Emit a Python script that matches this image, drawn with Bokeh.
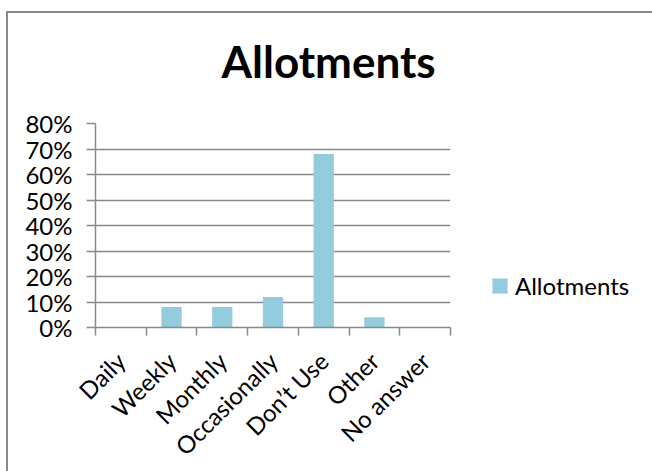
import math
from bokeh.plotting import figure
from bokeh.models import (FixedTicker, NumeralTickFormatter, Range1d, Legend,
                          LegendItem, ColumnDataSource, CustomJSTickFormatter, LinearAxis)
from bokeh.embed import file_html
from bokeh.resources import INLINE

# ---- data ----
categories = ["Daily", "Weekly", "Monthly", "Occasionally", "Don\u2019t Use", "Other", "No answer"]
values = [0.0, 0.08, 0.08, 0.12, 0.68, 0.04, 0.0]
y_ticks = [0.0, 0.1, 0.2, 0.3, 0.4, 0.5, 0.6, 0.7, 0.8]
series_name = "Allotments"
title_text = "Allotments"

# ---- styles ----
BAR = "#93CDDD"
GRID = "#898989"
FONT = "Lato"

x_centers = [i + 0.5 for i in range(len(categories))]
boundaries = list(range(len(categories) + 1))
source = ColumnDataSource(dict(x=x_centers, top=values))

p = figure(frame_width=355, frame_height=204,
           min_border_left=87, min_border_right=198,
           min_border_top=110, min_border_bottom=142,
           x_range=Range1d(0, len(categories)), y_range=Range1d(0, y_ticks[-1]),
           output_backend="svg", toolbar_location=None)
p.outline_line_color = None
p.background_fill_color = "white"
p.border_fill_color = "white"
p.styles = {"margin-left": "6px", "margin-top": "11px",
            "border-top": "2px solid #898989", "border-left": "2px solid #898989"}

xa = p.below[0]
ya = p.left[0]

r = p.vbar(x="x", top="top", width=0.4, source=source,
           fill_color=BAR, line_color=None)

# invisible spacer between plot area and title
spacer = LinearAxis(ticker=FixedTicker(ticks=[3.5]), major_tick_out=32, major_tick_in=0,
                    minor_tick_out=0, minor_tick_in=0, major_label_standoff=0,
                    formatter=CustomJSTickFormatter(code="return '';"),
                    axis_line_color=None, major_tick_line_color=None,
                    minor_tick_line_color=None, major_label_text_font_size="0px")
p.add_layout(spacer, "above")

# title
p.title.text = title_text
p.title.text_font = FONT
p.title.text_font_style = "bold"
p.title.text_font_size = "44px"
p.title.text_color = "black"
p.title.align = "left"
p.title.offset = 126
p.title.standoff = 10

# x axis
xa.ticker = FixedTicker(ticks=x_centers, minor_ticks=boundaries)
xa.formatter = CustomJSTickFormatter(args=dict(cats=categories),
                                     code="return cats[Math.floor(tick)];")
xa.major_tick_out = 0
xa.major_tick_in = 0
xa.minor_tick_out = 8
xa.minor_tick_in = 0
xa.minor_tick_line_color = GRID
xa.minor_tick_line_width = 1.5
xa.axis_line_color = GRID
xa.axis_line_width = 1.5
xa.major_label_orientation = math.pi / 4
xa.major_label_standoff = 21
xa.major_label_text_font = FONT
xa.major_label_text_font_size = "24px"
xa.major_label_text_color = "black"

# y axis
ya.ticker = FixedTicker(ticks=y_ticks)
ya.formatter = NumeralTickFormatter(format="0%")
ya.major_tick_out = 9
ya.major_tick_in = 0
ya.minor_tick_out = 0
ya.minor_tick_in = 0
ya.major_tick_line_color = GRID
ya.major_tick_line_width = 1.5
ya.axis_line_color = GRID
ya.axis_line_width = 1.5
ya.major_label_standoff = 14
ya.major_label_text_font = FONT
ya.major_label_text_font_size = "24px"
ya.major_label_text_color = "black"

p.xgrid.visible = False
p.ygrid.grid_line_color = GRID
p.ygrid.grid_line_width = 1.5

# legend
legend = Legend(items=[LegendItem(label=series_name, renderers=[r])],
                location=(40, 27), orientation="vertical",
                border_line_color=None, background_fill_alpha=0,
                padding=0, margin=0, spacing=0,
                glyph_width=19, glyph_height=19, label_standoff=6,
                label_text_font=FONT, label_text_font_size="24px",
                label_text_color="black")
p.add_layout(legend, "right")

open("out.html", "w").write(file_html(p, INLINE))
